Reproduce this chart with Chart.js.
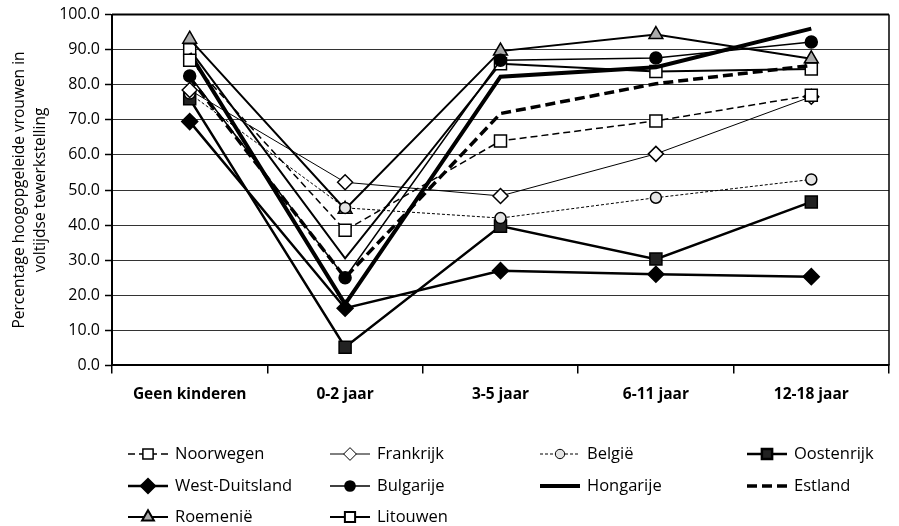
<!DOCTYPE html>
<html>
<head>
<meta charset="utf-8">
<script src="https://cdn.jsdelivr.net/npm/chart.js@4/dist/chart.umd.min.js"></script>
<style>
  body { margin: 0; background: #fff; }
  canvas { display: block; }
</style>
</head>
<body>
<canvas id="grafiek" width="899" height="526"></canvas>
<script>
// leeftijd jongste kind
const categorieen = ['Geen kinderen', '0-2 jaar', '3-5 jaar', '6-11 jaar', '12-18 jaar'];

// percentage hoogopgeleide vrouwen in voltijdse tewerkstelling
const noorwegen     = [87.0, 38.5, 64.0, 69.7, 77.0];
const frankrijk     = [78.5, 52.2, 48.3, 60.3, 76.6];
const belgie        = [77.5, 44.9, 42.0, 47.8, 53.0];
const oostenrijk    = [76.0,  5.2, 39.7, 30.3, 46.6];
const westDuitsland = [69.5, 16.3, 27.0, 26.0, 25.3];
const bulgarije     = [82.5, 25.0, 87.0, 87.6, 92.2];
const hongarije     = [89.0, 17.5, 82.3, 85.0, 96.0];
const estland       = [82.0, 25.0, 71.8, 80.3, 85.5];
const roemenie      = [93.0, 44.5, 89.6, 94.3, 87.4];
const litouwen      = [90.0, 30.5, 86.0, 83.8, 84.5];

const yTicks = [0, 10, 20, 30, 40, 50, 60, 70, 80, 90, 100];

const FONT = '"Open Sans", "Noto Sans", sans-serif';

function reeks(label, data, opts) {
  return Object.assign({
    label: label,
    data: data,
    borderColor: '#000',
    pointBorderColor: '#000',
    pointBackgroundColor: '#fff',
    pointBorderWidth: 1.5,
    tension: 0,
    fill: false
  }, opts);
}

const datasets = [
  reeks('Noorwegen', noorwegen, { borderWidth: 1.5, borderDash: [7, 4], pointStyle: 'rect', pointRadius: 8.5 }),
  reeks('Frankrijk', frankrijk, { borderWidth: 1, pointStyle: 'rectRot', pointRadius: 7.5 }),
  reeks('België', belgie, { borderWidth: 1, borderDash: [3, 2], pointStyle: 'circle', pointRadius: 5.5, pointBackgroundColor: '#e4e4e4' }),
  reeks('Oostenrijk', oostenrijk, { borderWidth: 2.5, pointStyle: 'rect', pointRadius: 8.5, pointBackgroundColor: '#222' }),
  reeks('West-Duitsland', westDuitsland, { borderWidth: 2.5, pointStyle: 'rectRot', pointRadius: 8, pointBackgroundColor: '#000' }),
  reeks('Bulgarije', bulgarije, { borderWidth: 1.5, pointStyle: 'circle', pointRadius: 6, pointBackgroundColor: '#000' }),
  reeks('Hongarije', hongarije, { borderWidth: 4, pointRadius: 0 }),
  reeks('Estland', estland, { borderWidth: 3.5, borderDash: [10, 5], pointRadius: 0 }),
  reeks('Roemenië', roemenie, { borderWidth: 2, pointStyle: 'triangle', pointRadius: 8, pointBackgroundColor: '#aaa' }),
  reeks('Litouwen', litouwen, { borderWidth: 2, pointStyle: 'rect', pointRadius: [8.5, 0, 8.5, 8.5, 8.5] })
];

// kader boven en rechts van het grafiekvlak
const kader = {
  id: 'kader',
  beforeDatasetsDraw(chart) {
    const { ctx, chartArea: a } = chart;
    ctx.save();
    ctx.strokeStyle = '#000';
    ctx.lineWidth = 2;
    ctx.beginPath();
    ctx.moveTo(a.left, a.top);
    ctx.lineTo(a.right, a.top);
    ctx.stroke();
    ctx.lineWidth = 1.5;
    ctx.beginPath();
    ctx.moveTo(a.right, a.top);
    ctx.lineTo(a.right, a.bottom);
    ctx.stroke();
    ctx.restore();
  }
};

// legenda in 4 kolommen
const legenda = {
  id: 'legenda',
  afterDraw(chart) {
    const ctx = chart.ctx;
    const kolX = [128, 330, 540, 747];
    const rijY = [454, 486, 517];
    ctx.save();
    chart.data.datasets.forEach((ds, i) => {
      const x = kolX[i % 4];
      const y = rijY[Math.floor(i / 4)];
      ctx.strokeStyle = '#000';
      ctx.lineWidth = ds.borderWidth;
      ctx.setLineDash(ds.borderDash || []);
      ctx.beginPath();
      ctx.moveTo(x, y);
      ctx.lineTo(x + 40, y);
      ctx.stroke();
      ctx.setLineDash([]);
      const r = Array.isArray(ds.pointRadius) ? ds.pointRadius[0] : ds.pointRadius;
      if (r > 0) {
        ctx.fillStyle = ds.pointBackgroundColor;
        ctx.strokeStyle = '#000';
        Chart.helpers.drawPoint(ctx, {
          pointStyle: ds.pointStyle, radius: r * 0.85, rotation: 0, borderWidth: ds.pointBorderWidth
        }, x + 20, y);
      }
      ctx.fillStyle = '#000';
      ctx.font = '16.5px ' + FONT;
      ctx.textBaseline = 'middle';
      ctx.fillText(ds.label, x + 47, y);
    });
    ctx.restore();
  }
};

new Chart(document.getElementById('grafiek'), {
  type: 'line',
  data: { labels: categorieen, datasets: datasets },
  plugins: [kader, legenda],
  options: {
    responsive: false,
    animation: false,
    layout: { padding: { left: 0, right: 6, top: 12, bottom: 110 } },
    plugins: { legend: { display: false }, tooltip: { enabled: false } },
    scales: {
      x: {
        offset: true,
        grid: { offset: true, drawOnChartArea: false, tickLength: 8, color: '#000', lineWidth: 1.5 },
        border: { color: '#000', width: 2 },
        ticks: { color: '#000', padding: 12, font: { family: FONT, size: 15.5, weight: 'bold' } }
      },
      y: {
        min: 0,
        max: 100,
        afterBuildTicks: s => { s.ticks = yTicks.map(v => ({ value: v })); },
        afterFit: s => { s.width = 112; },
        ticks: { color: '#000', padding: 5, font: { family: FONT, size: 16 }, callback: v => v.toFixed(1) },
        grid: {
          color: '#333', lineWidth: 1, borderDash: [2, 1],
          tickBorderDash: [], tickColor: '#000', tickLength: 7, tickWidth: 1.5
        },
        border: { color: '#000', width: 2 },
        title: {
          display: true,
          text: ['Percentage hoogopgeleide vrouwen in', 'voltijdse tewerkstelling'],
          color: '#000',
          font: { family: FONT, size: 15.5, lineHeight: 1.3 },
          padding: { top: 10, bottom: 0 }
        }
      }
    }
  }
});
</script>
</body>
</html>
